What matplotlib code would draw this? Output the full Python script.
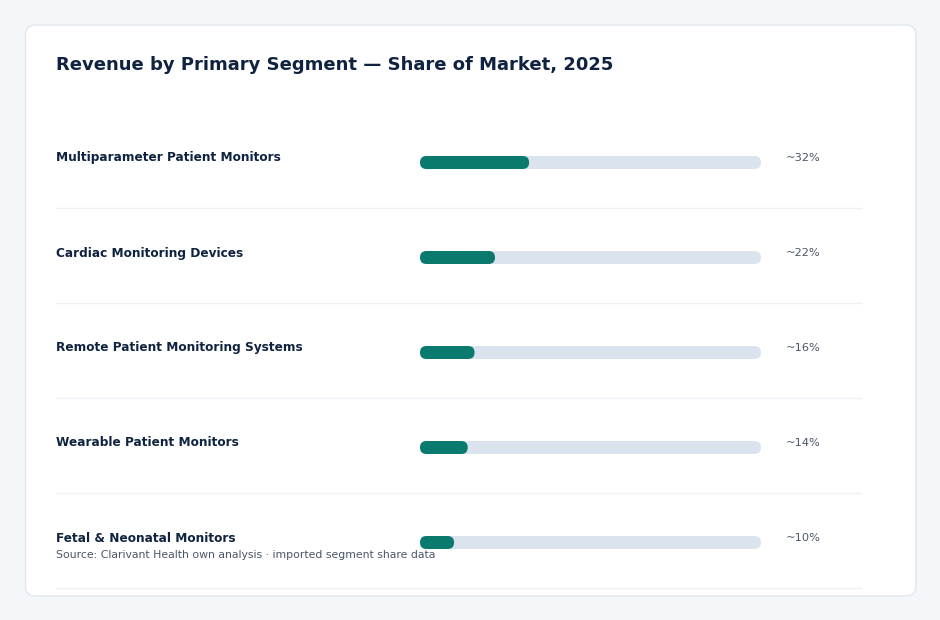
import matplotlib
matplotlib.use("Agg")
import matplotlib.pyplot as plt
from matplotlib.patches import FancyBboxPatch
from matplotlib.lines import Line2D
import matplotlib.transforms as mtransforms

# ---- data ----
categories = [
    "Multiparameter Patient Monitors",
    "Cardiac Monitoring Devices",
    "Remote Patient Monitoring Systems",
    "Wearable Patient Monitors",
    "Fetal & Neonatal Monitors",
]
shares = [32, 22, 16, 14, 10]
value_labels = ["~32%", "~22%", "~16%", "~14%", "~10%"]
title = "Revenue by Primary Segment \u2014 Share of Market, 2025"
source = "Source: Clarivant Health own analysis \u00b7 imported segment share data"

# ---- style ----
BG = "#f4f7fa"
CARD = "#ffffff"
CARD_EDGE = "#e1e7ee"
NAVY = "#0f2340"
GREY = "#4a5568"
SEP = "#edf1f5"
TRACK = "#dbe4ee"
FILL = "#0b7a6e"

W, H = 940, 620
fig = plt.figure(figsize=(W / 100, H / 100), dpi=100)
fig.patch.set_facecolor(BG)

def fx(px):
    return px / W

def fy(py):
    return 1 - py / H

# card
card = FancyBboxPatch((fx(25.5), fy(596)), fx(890.5), 571 / H,
                      boxstyle="round,pad=0,rounding_size=%f" % fx(10),
                      mutation_aspect=W / H, transform=fig.transFigure,
                      facecolor=CARD, edgecolor=CARD_EDGE, linewidth=1.0, zorder=-5)
fig.add_artist(card)

fig.text(fx(56), fy(65), title, fontsize=13.0, fontweight="bold", color=NAVY,
         ha="left", va="center")

# bar axes: spans track region horizontally, rows vertically
top_px, row_px = 115, 95
n = len(categories)
ax = fig.add_axes([fx(420), fy(top_px + row_px * n), fx(341), row_px * n / H])
ax.set_zorder(2)
ax.set_xlim(0, 100)
ax.set_ylim(n - 0.5, -0.5)
ax.axis("off")

bar_h = 13 / row_px
px_per_x = 341 / 100
r_x = (bar_h * row_px / 2) / px_per_x
aspect = (1 / row_px) / (1 / px_per_x)

blend = mtransforms.blended_transform_factory(fig.transFigure, ax.transData)

for i, (cat, v, lab) in enumerate(zip(categories, shares, value_labels)):
    track = FancyBboxPatch((0, i - bar_h / 2), 100, bar_h,
                           boxstyle="round,pad=0,rounding_size=%f" % r_x,
                           mutation_aspect=aspect, facecolor=TRACK,
                           edgecolor="none", zorder=1)
    ax.add_patch(track)
    fill = FancyBboxPatch((0, i - bar_h / 2), v, bar_h,
                          boxstyle="round,pad=0,rounding_size=%f" % r_x,
                          mutation_aspect=aspect, facecolor=FILL,
                          edgecolor="none", zorder=2)
    ax.add_patch(fill)

    ax.text(fx(56), i - 4.5 / row_px, cat, transform=blend, fontsize=8.7,
            fontweight="bold", color=NAVY, ha="left", va="center", clip_on=False)
    ax.text(fx(786), i - 4.5 / row_px, lab, transform=blend, fontsize=8.2,
            color=GREY, ha="left", va="center", clip_on=False)
    sep = Line2D([fx(56), fx(861)], [i + 45.5 / row_px] * 2, transform=blend,
                 color=SEP, linewidth=1.0, zorder=0)
    sep.set_clip_on(False)
    ax.add_line(sep)

ax.text(fx(56), (n - 1) + 12.5 / row_px, source, transform=blend, fontsize=7.85,
        color=GREY, ha="left", va="center", clip_on=False)

fig.savefig("out.png", dpi=100, facecolor=BG)
